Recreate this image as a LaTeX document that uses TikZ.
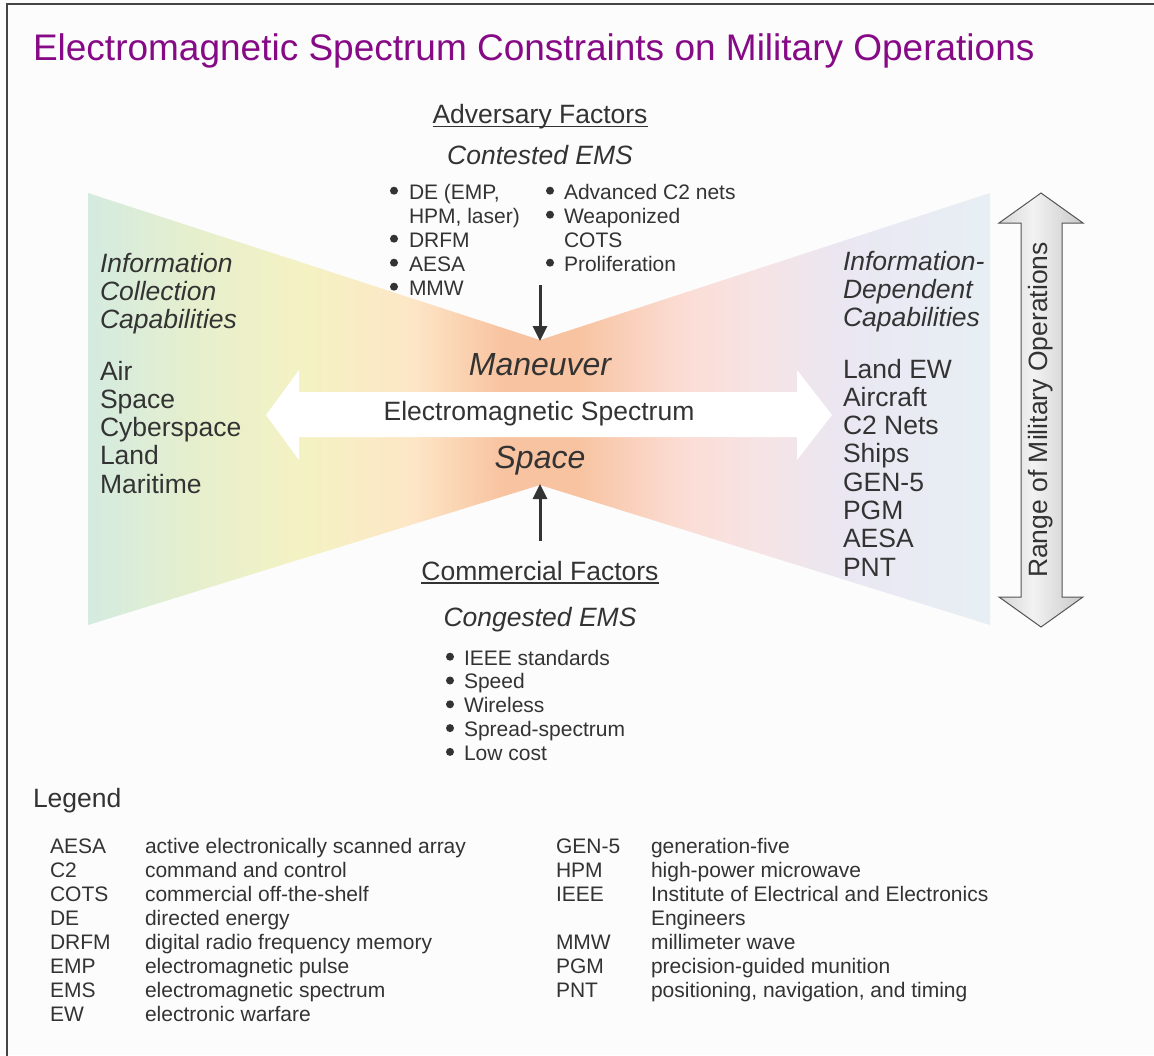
\documentclass[tikz,border=0pt]{standalone}
\usepackage{fontspec}
\setmainfont{Liberation Sans}
\usetikzlibrary{arrows.meta}
\definecolor{txt}{HTML}{333333}
\definecolor{ttl}{RGB}{134,10,134}
\definecolor{bg}{HTML}{FCFCFC}
\definecolor{frame}{HTML}{444444}
\definecolor{cA}{HTML}{D4EBE0}
\definecolor{cB}{HTML}{E6EFCD}
\definecolor{cC}{HTML}{F4F2C3}
\definecolor{cD}{HTML}{FDE6C6}
\definecolor{cE}{HTML}{F8C3A0}
\definecolor{cF}{HTML}{FBDDD5}
\definecolor{cG}{HTML}{F6E3E4}
\definecolor{cH}{HTML}{EAE7F2}
\definecolor{cI}{HTML}{E7EFF4}
\definecolor{gA}{HTML}{D6D6D6}
\definecolor{gB}{HTML}{F2F2F2}
\definecolor{gC}{HTML}{C9C9C9}
\definecolor{arrline}{HTML}{555555}
\pgfdeclarehorizontalshading{bowtie}{100bp}{color(0bp)=(cA); color(25bp)=(cA); color(31bp)=(cB); color(37bp)=(cC); color(43bp)=(cD); color(48bp)=(cE); color(52bp)=(cE); color(58bp)=(cF); color(62bp)=(cG); color(67bp)=(cH); color(75bp)=(cI); color(100bp)=(cI)}
\pgfdeclarehorizontalshading{grayarr}{100bp}{color(0bp)=(gA); color(25bp)=(gA); color(45bp)=(gB); color(75bp)=(gC); color(100bp)=(gC)}
\tikzset{
  every node/.style={inner sep=0pt, outer sep=0pt, text=txt},
  ttlfont/.style={font=\fontsize{37}{40}\selectfont},
  bigfont/.style={font=\fontsize{26.5}{28.3}\selectfont},
  bigit/.style={font=\fontsize{26.5}{28.3}\selectfont\itshape},
  hugeit/.style={font=\fontsize{32}{34}\selectfont\itshape},
  smallfont/.style={font=\fontsize{21}{24}\selectfont},
  lgfont/.style={font=\fontsize{21}{24}\selectfont},
  bulletdot/.style={fill=txt},
  vertarrow/.style={line width=3pt, draw=txt, -{Triangle[width=14pt,length=15pt]}},
  uline/.style={line width=1.3pt, draw=txt}
}
\begin{document}
\begin{tikzpicture}[x=1pt,y=-1pt]
\useasboundingbox (0,0) rectangle (1154,1055);
\fill[bg] (0,0) rectangle (1154,1055);
\draw[frame, line width=2.5pt] (7,4) rectangle (1170,1070);

% title
\node[ttlfont, text=ttl, anchor=base west] (title) at (33,60) {Electromagnetic Spectrum Constraints on Military Operations};

% bowtie
\shade[shading=bowtie] (88,193) -- (540,340) -- (990,193) -- (990,625) -- (540,485) -- (88,625) -- cycle;

% white double arrow
\fill[white] (266,415) -- (299,370) -- (299,392) -- (797,392) -- (797,370) -- (832,415) -- (797,460) -- (797,437) -- (299,437) -- (299,460) -- cycle;

% gray double arrow
\shadedraw[shading=grayarr, draw=arrline, line width=1pt] (1041,193) -- (1083,223) -- (1062,223) -- (1062,597) -- (1083,597) -- (1041,627) -- (999,597) -- (1021,597) -- (1021,223) -- (999,223) -- cycle;
\node[bigfont, rotate=90] (range) at (1041,410) {Range of Military Operations};

% center labels
\node[hugeit, anchor=base] (maneuver) at (540,375) {Maneuver};
\node[bigfont, anchor=base] (ems) at (539,420) {Electromagnetic Spectrum};
\node[hugeit, anchor=base] (space) at (540,468) {Space};

% vertical arrows
\coordinate (advtail) at (540,285);
\coordinate (mtip) at (540,341);
\coordinate (comtail) at (540,541);
\coordinate (stip) at (540,484);
\draw[vertarrow] (advtail) -- (mtip);
\draw[vertarrow] (comtail) -- (stip);

% adversary factors
\node[bigfont, anchor=base] (adv) at (540,123) {Adversary Factors};
\draw[uline] ([yshift=-3.5pt]adv.base west) -- ([yshift=-3.5pt]adv.base east);
\node[bigit, anchor=base] (contested) at (540,164) {Contested EMS};
\foreach \t [count=\i] in {{DE (EMP,},{HPM, laser)},DRFM,AESA,MMW} {
  \node[smallfont, anchor=base west] (al\i) at (409,{199+24*(\i-1)}) {\t};
}
\foreach \t [count=\i] in {Advanced C2 nets,Weaponized,COTS,Proliferation} {
  \node[smallfont, anchor=base west] (ar\i) at (564,{199+24*(\i-1)}) {\t};
}
\foreach \y in {199,247,271,295} { \fill[bulletdot] (394,\y-8.3) circle (4); }
\foreach \y in {199,223,271} { \fill[bulletdot] (550,\y-8.3) circle (4); }

% commercial factors
\node[bigfont, anchor=base] (com) at (540,580) {Commercial Factors};
\draw[uline] ([yshift=-3pt]com.base west) -- ([yshift=-3pt]com.base east);
\node[bigit, anchor=base] (congested) at (540,626) {Congested EMS};
\foreach \t [count=\i] in {IEEE standards,Speed,Wireless,Spread-spectrum,Low cost} {
  \node[smallfont, anchor=base west] (cb\i) at (464,{665+23.8*(\i-1)}) {\t};
  \fill[bulletdot] (450,{665+23.8*(\i-1)-8.3}) circle (4);
}

% left side
\foreach \t [count=\i] in {Information,Collection,Capabilities} {
  \node[bigit, anchor=base west] (li\i) at (100,{272+28.3*(\i-1)}) {\t};
}
\foreach \t [count=\i] in {Air,Space,Cyberspace,Land,Maritime} {
  \node[bigfont, anchor=base west] (ll\i) at (100,{380+28.3*(\i-1)}) {\t};
}

% right side
\foreach \t [count=\i] in {Information-,Dependent,Capabilities} {
  \node[bigit, anchor=base west] (ri\i) at (843,{270+28.3*(\i-1)}) {\t};
}
\foreach \t [count=\i] in {Land EW,Aircraft,C2 Nets,Ships,GEN-5,PGM,AESA,PNT} {
  \node[bigfont, anchor=base west] (rl\i) at (843,{378+28.3*(\i-1)}) {\t};
}

% legend
\node[bigfont, anchor=base west] (legend) at (33,807) {Legend};
\foreach \a/\d [count=\i] in {AESA/active electronically scanned array,C2/command and control,COTS/commercial off-the-shelf,DE/directed energy,DRFM/digital radio frequency memory,EMP/electromagnetic pulse,EMS/electromagnetic spectrum,EW/electronic warfare} {
  \node[lgfont, anchor=base west] (la\i) at (50,{853+24*(\i-1)}) {\a};
  \node[lgfont, anchor=base west] (ld\i) at (145,{853+24*(\i-1)}) {\d};
}
\foreach \a/\d/\r [count=\i] in {GEN-5/generation-five/0,HPM/high-power microwave/1,IEEE/Institute of Electrical and Electronics/2,/Engineers/3,MMW/millimeter wave/4,PGM/precision-guided munition/5,PNT/{positioning, navigation, and timing}/6} {
  \node[lgfont, anchor=base west] (ra\i) at (556,{853+24*\r}) {\a};
  \node[lgfont, anchor=base west] (rd\i) at (651,{853+24*\r}) {\d};
}
\end{tikzpicture}
\end{document}
